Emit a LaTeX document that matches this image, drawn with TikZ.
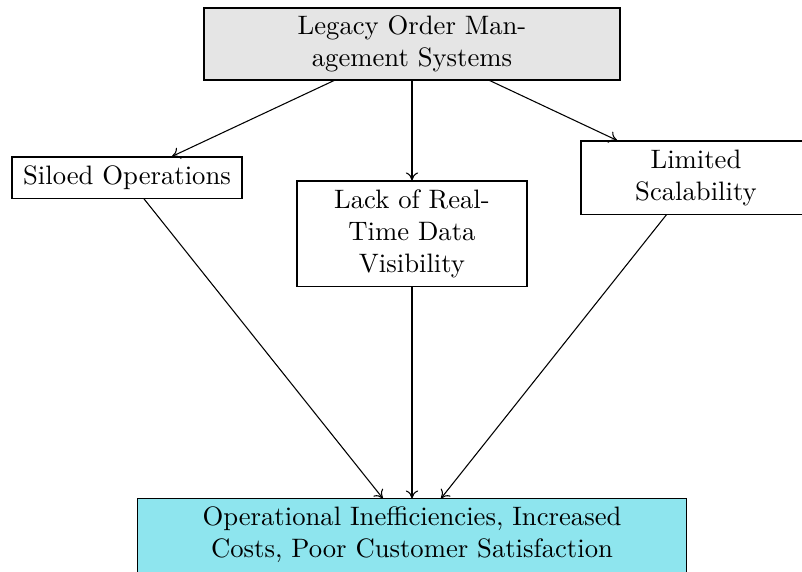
\documentclass[tikz,border=0pt]{standalone}
\usetikzlibrary{arrows.meta,backgrounds}
\definecolor{outcomefill}{RGB}{142,229,238}
\begin{document}
\begin{tikzpicture}[x=0.375pt,y=-0.375pt,
  box/.style={draw, align=center, inner ysep=2pt, minimum width=86.25pt},
  link/.style={-{To[length=3pt,width=4.6pt]}}]
\useasboundingbox (0,0) rectangle (802,572);
\clip (0,0) rectangle (802,572);
% source system
\node[box, fill=gray!20, minimum width=156pt, minimum height=27pt] (legacy) at (412,44)
  {Legacy Order Man-\\agement Systems};
% problems
\node[box, minimum height=15.4pt] (silo) at (127,177.5) {Siloed Operations};
\node[box, minimum height=39.4pt] (lack) at (412,233.5) {Lack of Real-\\Time Data\\Visibility};
\node[box, minimum height=27.4pt] (scal) at (696,177.5) {Limited\\Scalability};
% consequence: its box runs past the lower edge of the page
\node[align=center, inner ysep=2pt, minimum width=205.5pt, minimum height=27pt] (out) at (412,535)
  {Operational Inefficiencies, Increased\\Costs, Poor Customer Satisfaction};
\begin{scope}[on background layer]
  \filldraw[fill=outcomefill] (out.north west) rectangle ([yshift=-4pt]out.south east);
\end{scope}
% connectors
\draw[link] (legacy) -- (silo);
\draw[link] (legacy) -- (lack);
\draw[link] (legacy) -- (scal);
\draw[link] (silo) -- (out);
\draw[link] (lack) -- (out);
\draw[link] (scal) -- (out);
\end{tikzpicture}
\end{document}
